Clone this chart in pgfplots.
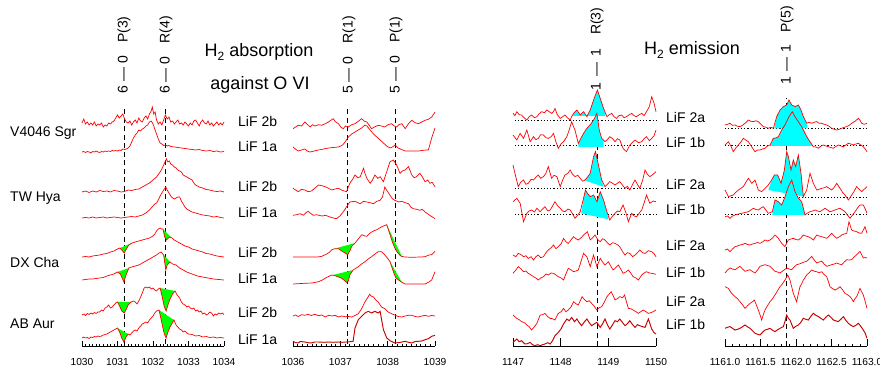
\documentclass[border=0pt]{standalone}
\usepackage{fontspec}
\setmainfont{Liberation Sans}
\usepackage{pgfplots}
\pgfplotsset{compat=1.18}
\newcommand\lab{\fontsize{14}{16}\selectfont}
\newcommand\ttl{\fontsize{18}{20}\selectfont}
\newcommand\sub[1]{\raisebox{-0.4ex}{\fontsize{12}{12}\selectfont #1}}
\pgfplotsset{
 panel/.style={scale only axis, height=346pt, ymin=0, ymax=346, axis x line*=bottom, axis y line=none, ytick=\empty, clip=false,
   tick align=inside, major tick length=5pt, minor tick length=2.5pt,
   every tick/.style={black, line width=0.7pt}, axis line style={black, line width=0.8pt},
   xticklabel style={font=\fontsize{10.2}{12}\selectfont, yshift=-9pt}},
 spec/.style={red, line width=0.7pt, mark=none},
 dspec/.style={red!78!black, line width=0.95pt, mark=none},
 off/.style={y filter/.expression={y+#1-1}},
 gf/.style={fill={rgb,255:red,0;green,255;blue,0}, draw=none},
 cf/.style={fill={rgb,255:red,0;green,255;blue,255}, draw=none},
 vl/.style={black, line width=0.9pt, dash pattern=on 5pt off 3.5pt},
 bl/.style={black, line width=1pt, dash pattern=on 1.2pt off 2pt},
}
\begin{document}
\begin{tikzpicture}
\useasboundingbox (0pt,0pt) rectangle (880pt,372pt);
% ---------------- Panel 1 ----------------
\begin{axis}[panel, at={(82pt,26pt)}, anchor=south west, width=142pt, xmin=1030, xmax=1034,
  xtick={1030,1031,1032,1033,1034}, xticklabels={1030,1031,1032,1033,1034}, minor x tick num=9]
\addplot[vl] coordinates {(1031.19,2) (1031.19,239)};
\addplot[vl] coordinates {(1032.36,2) (1032.36,239)};
\addplot[spec, off=223] coordinates {(1030.00,1) (1030.05,5) (1030.10,0) (1030.15,2) (1030.20,-1) (1030.25,1) (1030.30,-1) (1030.35,2) (1030.40,-2) (1030.45,0) (1030.50,-1) (1030.55,1) (1030.60,-3) (1030.65,-1) (1030.70,-2) (1030.75,1) (1030.80,0) (1030.85,2) (1030.90,3) (1030.95,6) (1031.00,9) (1031.05,6) (1031.10,8) (1031.15,10) (1031.20,5) (1031.25,2) (1031.30,1) (1031.35,3) (1031.40,-1) (1031.45,2) (1031.50,4) (1031.55,1) (1031.60,6) (1031.65,3) (1031.70,2) (1031.75,6) (1031.80,8) (1031.85,5) (1031.90,10) (1031.95,13) (1031.98,17) (1032.02,10) (1032.06,12) (1032.10,4) (1032.15,0) (1032.20,2) (1032.25,-1) (1032.30,4) (1032.35,9) (1032.40,5) (1032.45,7) (1032.50,2) (1032.55,3) (1032.60,0) (1032.65,2) (1032.70,4) (1032.75,0) (1032.80,1) (1032.85,-1) (1032.90,2) (1032.95,0) (1033.00,-2) (1033.05,1) (1033.10,-1) (1033.15,3) (1033.20,4) (1033.25,1) (1033.30,-2) (1033.35,2) (1033.40,4) (1033.45,1) (1033.50,0) (1033.55,3) (1033.60,-1) (1033.65,1) (1033.70,-2) (1033.75,0) (1033.80,2) (1033.85,-1) (1033.90,1) (1033.95,-1) (1034.00,2)};
\addplot[spec, off=195] coordinates {(1030.00,0) (1030.05,0.5) (1030.10,-0.5) (1030.15,0.5) (1030.20,0) (1030.25,-1) (1030.30,0.5) (1030.35,0) (1030.40,1) (1030.45,0) (1030.50,-0.5) (1030.55,0.5) (1030.60,0) (1030.65,1) (1030.70,0.5) (1030.75,1) (1030.80,0.5) (1030.85,1.5) (1030.90,1) (1030.95,1.5) (1031.00,1) (1031.05,2) (1031.10,1.5) (1031.15,3) (1031.20,2.5) (1031.25,3) (1031.30,4) (1031.35,6) (1031.40,10) (1031.45,14) (1031.50,17) (1031.55,19) (1031.60,22) (1031.65,21) (1031.70,23) (1031.75,24) (1031.80,26) (1031.85,27) (1031.90,30) (1031.95,31) (1032.00,28) (1032.05,23) (1032.10,18) (1032.15,13) (1032.20,9) (1032.25,8) (1032.30,6.5) (1032.35,7) (1032.40,6) (1032.45,6.5) (1032.50,5.5) (1032.60,5) (1032.70,4.5) (1032.80,4) (1032.90,3.5) (1033.00,3) (1033.10,2.5) (1033.20,2) (1033.30,2.5) (1033.40,1.5) (1033.50,1) (1033.60,1.5) (1033.70,0.5) (1033.80,1) (1033.90,0) (1034.00,0.5)};
\addplot[spec, off=155] coordinates {(1030.00,0) (1030.10,1) (1030.20,-0.5) (1030.30,1) (1030.40,0) (1030.50,1.5) (1030.60,0.5) (1030.70,1) (1030.80,0) (1030.90,1.5) (1031.00,1) (1031.10,0) (1031.20,0.5) (1031.30,2) (1031.40,1.5) (1031.50,2.5) (1031.60,3) (1031.70,5) (1031.80,7) (1031.90,9) (1032.00,12) (1032.10,15) (1032.20,20) (1032.25,23) (1032.30,27) (1032.35,31) (1032.38,33) (1032.42,30) (1032.46,31) (1032.50,28) (1032.55,27) (1032.60,25) (1032.65,24) (1032.70,22) (1032.75,21) (1032.80,20) (1032.85,17) (1032.90,16) (1032.95,15) (1033.00,14) (1033.05,13) (1033.10,12) (1033.15,9) (1033.20,7) (1033.30,5) (1033.40,4) (1033.50,2.5) (1033.60,2) (1033.70,1) (1033.80,0.5) (1033.90,1) (1034.00,0)};
\addplot[spec, off=129] coordinates {(1030.00,0) (1030.10,0.5) (1030.20,0) (1030.30,1) (1030.40,0) (1030.50,0.5) (1030.60,1) (1030.70,0) (1030.80,0.5) (1030.90,1) (1031.00,0.5) (1031.10,0) (1031.20,0.5) (1031.30,1) (1031.40,1.5) (1031.50,1) (1031.60,2) (1031.70,3) (1031.80,5) (1031.90,8) (1032.00,12) (1032.05,14) (1032.10,15) (1032.15,18) (1032.20,22) (1032.25,25) (1032.30,28) (1032.36,31) (1032.40,28) (1032.45,25) (1032.50,22) (1032.55,20) (1032.60,19) (1032.65,20) (1032.70,21) (1032.75,21) (1032.80,17) (1032.85,14) (1032.90,11) (1032.95,9) (1033.00,8) (1033.10,6) (1033.20,5) (1033.30,4) (1033.40,3) (1033.50,2.5) (1033.60,2) (1033.70,1) (1033.80,1.5) (1033.90,0.5) (1034.00,0)};
% DX Cha 2b
\addplot[gf, off=90] coordinates {(1031.07,9) (1031.12,7) (1031.19,4) (1031.25,8) (1031.32,12) (1031.41,14)} -- cycle;
\addplot[gf, off=90] coordinates {(1032.28,28) (1032.33,20) (1032.38,17) (1032.43,19) (1032.48,20) (1032.53,19)} -- cycle;
\addplot[spec, off=90] coordinates {(1030.00,0) (1030.10,0.5) (1030.20,0) (1030.30,1) (1030.40,1.5) (1030.50,2) (1030.60,3) (1030.70,3.5) (1030.80,5) (1030.90,6) (1031.00,8) (1031.07,9) (1031.12,7) (1031.19,4) (1031.25,8) (1031.32,12) (1031.41,14) (1031.50,15) (1031.60,16) (1031.70,17) (1031.80,18) (1031.90,19) (1032.00,21) (1032.05,23) (1032.10,26) (1032.15,28) (1032.20,29) (1032.24,28) (1032.28,28) (1032.33,20) (1032.38,17) (1032.43,19) (1032.48,20) (1032.53,19) (1032.60,17) (1032.70,15) (1032.80,13) (1032.90,11) (1033.00,10) (1033.10,8) (1033.20,7) (1033.30,6) (1033.40,5) (1033.50,3.5) (1033.60,3) (1033.70,2) (1033.80,1) (1033.90,0.5) (1034.00,0)};
% DX Cha 1a
\addplot[gf, off=67] coordinates {(1031.00,8) (1031.08,6) (1031.13,2) (1031.18,-2) (1031.23,4) (1031.32,12)} -- cycle;
\addplot[gf, off=67] coordinates {(1032.30,25) (1032.34,15) (1032.36,10) (1032.40,15) (1032.48,18)} -- cycle;
\addplot[spec, off=67] coordinates {(1030.00,0) (1030.10,0.5) (1030.20,1) (1030.30,1) (1030.40,1.5) (1030.50,2) (1030.60,2.5) (1030.70,4) (1030.80,5) (1030.90,6) (1031.00,8) (1031.08,6) (1031.13,2) (1031.18,-2) (1031.23,4) (1031.32,12) (1031.40,13) (1031.50,14) (1031.60,15) (1031.70,17) (1031.80,19) (1031.90,21) (1032.00,23) (1032.10,25) (1032.17,27) (1032.23,28) (1032.30,25) (1032.34,15) (1032.36,10) (1032.40,15) (1032.48,18) (1032.55,16) (1032.65,15) (1032.75,12) (1032.85,10) (1032.95,8) (1033.10,6) (1033.25,4) (1033.40,3) (1033.55,2) (1033.70,1) (1033.85,0.5) (1034.00,0)};
% AB Aur 2b
\addplot[gf, off=32] coordinates {(1031.00,13) (1031.06,9) (1031.12,4) (1031.19,2) (1031.25,6) (1031.30,10) (1031.38,13)} -- cycle;
\addplot[gf, off=32] coordinates {(1032.20,27) (1032.26,18) (1032.32,8) (1032.37,4) (1032.42,10) (1032.48,16) (1032.55,21) (1032.62,24)} -- cycle;
\addplot[spec, off=32] coordinates {(1030.00,0) (1030.05,1) (1030.10,-0.5) (1030.15,1.5) (1030.20,0.5) (1030.25,2) (1030.30,1) (1030.35,2.5) (1030.40,1.5) (1030.45,3) (1030.50,3) (1030.55,5) (1030.60,4) (1030.65,7) (1030.70,8) (1030.75,10) (1030.80,7) (1030.85,8) (1030.90,10) (1030.95,12) (1031.00,13) (1031.06,9) (1031.12,4) (1031.19,2) (1031.25,6) (1031.30,10) (1031.38,13) (1031.45,14) (1031.50,13) (1031.55,11) (1031.60,14) (1031.65,18) (1031.70,22) (1031.75,27) (1031.80,28) (1031.85,27) (1031.90,28) (1031.95,26) (1032.00,27) (1032.05,25) (1032.10,24) (1032.15,26) (1032.20,27) (1032.26,18) (1032.32,8) (1032.37,4) (1032.42,10) (1032.48,16) (1032.55,21) (1032.62,24) (1032.68,20) (1032.75,17) (1032.80,13) (1032.85,11) (1032.90,10) (1032.95,8) (1033.00,9) (1033.05,7) (1033.10,6) (1033.15,7) (1033.20,4) (1033.25,5) (1033.30,3) (1033.35,4) (1033.40,1) (1033.45,2) (1033.50,0) (1033.55,1) (1033.60,3) (1033.65,2) (1033.70,-1) (1033.75,1) (1033.80,0) (1033.85,2) (1033.90,1) (1033.95,2) (1034.00,0.5)};
% AB Aur 1a
\addplot[gf, off=9] coordinates {(1031.00,10) (1031.06,6) (1031.12,0) (1031.18,-4) (1031.24,1) (1031.30,4)} -- cycle;
\addplot[gf, off=9] coordinates {(1032.17,28) (1032.22,20) (1032.28,10) (1032.32,4) (1032.37,0) (1032.42,6) (1032.48,11) (1032.53,14) (1032.59,18)} -- cycle;
\addplot[spec, off=9] coordinates {(1030.00,0) (1030.05,1) (1030.10,0) (1030.15,0.5) (1030.20,-0.5) (1030.25,1) (1030.30,0.5) (1030.35,1.5) (1030.40,1) (1030.45,2) (1030.50,1.5) (1030.55,2) (1030.60,3) (1030.65,3.5) (1030.70,4) (1030.75,5) (1030.80,6) (1030.85,7) (1030.90,8) (1030.95,9) (1031.00,10) (1031.06,6) (1031.12,0) (1031.18,-4) (1031.24,1) (1031.30,4) (1031.35,3) (1031.40,5) (1031.45,7) (1031.50,8) (1031.55,7) (1031.60,10) (1031.65,12) (1031.70,14) (1031.75,15) (1031.80,16) (1031.85,15) (1031.90,18) (1031.95,20) (1032.00,22) (1032.05,25) (1032.10,27) (1032.17,28) (1032.22,20) (1032.28,10) (1032.32,4) (1032.37,0) (1032.42,6) (1032.48,11) (1032.53,14) (1032.59,18) (1032.65,13) (1032.70,11) (1032.75,9) (1032.80,8) (1032.85,6) (1032.90,7) (1032.95,5) (1033.00,4) (1033.10,3.5) (1033.20,2) (1033.30,2.5) (1033.40,1) (1033.50,1.5) (1033.60,0.5) (1033.70,1) (1033.80,0) (1033.90,0.5) (1034.00,0)};
\end{axis}
% ---------------- Panel 2 ----------------
\begin{axis}[panel, at={(293pt,26pt)}, anchor=south west, width=142pt, xmin=1036, xmax=1039,
  xtick={1036,1037,1038,1039}, xticklabels={1036,1037,1038,1039}, minor x tick num=9]
\addplot[vl] coordinates {(1037.15,2) (1037.15,239)};
\addplot[vl] coordinates {(1038.16,2) (1038.16,239)};
\addplot[spec, off=220] coordinates {(1036.00,-1.7) (1036.11,1.7) (1036.18,1) (1036.25,5) (1036.31,2.3) (1036.36,0) (1036.41,2.3) (1036.46,1) (1036.54,2.3) (1036.61,1.7) (1036.68,3.3) (1036.75,5) (1036.80,6.7) (1036.85,8.3) (1036.90,5) (1036.96,3.3) (1037.01,0) (1037.06,-1.7) (1037.11,1) (1037.17,0) (1037.24,2.3) (1037.31,3.3) (1037.38,5.7) (1037.45,8.3) (1037.51,5.7) (1037.56,5) (1037.61,1.7) (1037.66,-1.7) (1037.72,0) (1037.80,1.7) (1037.87,1) (1037.94,0) (1038.01,2.3) (1038.08,3.3) (1038.14,1) (1038.19,0) (1038.24,2.3) (1038.30,3.3) (1038.37,-1.7) (1038.44,3.3) (1038.51,6.7) (1038.58,4.3) (1038.65,3.3) (1038.72,5) (1038.79,6.7) (1038.86,7.7) (1038.93,10) (1039.00,15)};
\addplot[spec, off=197] coordinates {(1036.00,3) (1036.05,1) (1036.11,-1) (1036.18,0) (1036.25,1) (1036.30,-1) (1036.36,-2) (1036.45,-1) (1036.54,0) (1036.65,1) (1036.75,2) (1036.85,2.5) (1036.96,3) (1037.05,5) (1037.10,8) (1037.17,13) (1037.24,16) (1037.31,18) (1037.38,20) (1037.45,22) (1037.52,25) (1037.56,24) (1037.63,20) (1037.70,16) (1037.77,13) (1037.84,10) (1037.91,7) (1037.98,4) (1038.05,2) (1038.10,3) (1038.16,5) (1038.22,2) (1038.27,1) (1038.37,-1) (1038.50,-1) (1038.65,-1) (1038.80,0) (1038.86,0) (1038.93,12) (1039.00,22)};
\addplot[spec, off=157] coordinates {(1036.00,1.7) (1036.11,-1.7) (1036.18,0.7) (1036.25,0) (1036.32,-1.7) (1036.39,-1) (1036.46,1.7) (1036.54,5) (1036.61,4.3) (1036.68,3.3) (1036.75,1.7) (1036.82,0) (1036.89,1) (1036.96,1.7) (1037.04,-0.3) (1037.13,-1.7) (1037.20,6.7) (1037.25,10) (1037.31,15) (1037.37,12.3) (1037.42,13.3) (1037.49,21.7) (1037.52,16.7) (1037.56,11.7) (1037.63,6.7) (1037.68,10) (1037.73,15) (1037.79,11.7) (1037.84,13.3) (1037.91,8.3) (1037.98,18.3) (1038.05,28.3) (1038.12,30) (1038.19,25) (1038.26,16.7) (1038.31,19) (1038.37,20) (1038.44,23.3) (1038.51,15) (1038.56,12.3) (1038.61,13.3) (1038.68,16.7) (1038.73,13.3) (1038.79,8.3) (1038.85,10) (1038.89,6.7) (1038.94,7.7) (1039.00,3.3)};
\addplot[spec, off=130] coordinates {(1036.00,1.7) (1036.08,2.3) (1036.15,3.3) (1036.22,1.7) (1036.27,4.3) (1036.32,5.7) (1036.38,3.3) (1036.43,1.7) (1036.50,2.3) (1036.61,1) (1036.69,1.7) (1036.78,0) (1036.85,-1) (1036.92,-1.7) (1036.99,1) (1037.06,5) (1037.13,10) (1037.20,15) (1037.31,15.7) (1037.37,14.3) (1037.42,13.3) (1037.49,15.7) (1037.56,15) (1037.63,14.3) (1037.70,13.3) (1037.77,15.7) (1037.84,16.7) (1037.89,20) (1037.94,30) (1037.98,26.7) (1038.05,21.7) (1038.10,18.3) (1038.15,16.7) (1038.23,15) (1038.30,15.7) (1038.37,14.3) (1038.44,13.3) (1038.49,10) (1038.54,8.3) (1038.61,7.7) (1038.68,6.7) (1038.73,7.7) (1038.79,5) (1038.89,1.7) (1039.00,-1.7)};
% DX Cha 2b
\addplot[gf, off=90] coordinates {(1036.85,8) (1036.89,8.3) (1036.96,8.3) (1037.03,6) (1037.10,4) (1037.155,2.3) (1037.20,6) (1037.24,10.7) (1037.31,14)} -- cycle;
\addplot[gf, off=90] coordinates {(1037.98,32.3) (1038.05,22.3) (1038.10,15) (1038.15,9) (1038.20,5) (1038.26,1.7) (1038.30,0.5)} -- cycle;
\addplot[spec, off=90] coordinates {(1036.00,0) (1036.25,0) (1036.50,0) (1036.60,0.5) (1036.68,2.3) (1036.75,4) (1036.82,7.3) (1036.89,8.3) (1036.96,8.3) (1037.03,6) (1037.10,4) (1037.155,2.3) (1037.20,6) (1037.24,10.7) (1037.31,14) (1037.38,18) (1037.45,22.3) (1037.52,21) (1037.56,20.7) (1037.63,24) (1037.70,26) (1037.77,27.3) (1037.84,29.3) (1037.91,31) (1037.98,32.3) (1038.05,22.3) (1038.10,15) (1038.15,9) (1038.20,5) (1038.26,1.7) (1038.30,0.5) (1038.37,0) (1038.50,-0.3) (1038.70,0) (1038.79,0.3) (1038.87,2) (1038.93,2.3) (1039.00,5.7)};
% DX Cha 1a
\addplot[gf, off=63] coordinates {(1036.85,9) (1036.89,8.3) (1036.96,7) (1037.03,5.7) (1037.10,3) (1037.13,1.7) (1037.17,3) (1037.20,9) (1037.27,14)} -- cycle;
\addplot[gf, off=63] coordinates {(1038.05,22.3) (1038.12,12.3) (1038.17,6.3) (1038.23,4) (1038.30,1.7)} -- cycle;
\addplot[spec, off=63] coordinates {(1036.00,0) (1036.25,0.7) (1036.40,1) (1036.54,2.3) (1036.62,4) (1036.68,5.7) (1036.75,7.5) (1036.82,9) (1036.89,8.3) (1036.96,7) (1037.03,5.7) (1037.10,3) (1037.13,1.7) (1037.17,3) (1037.20,9) (1037.27,14) (1037.38,17.3) (1037.45,20) (1037.52,22.3) (1037.59,25) (1037.66,27.3) (1037.73,30) (1037.80,32.3) (1037.87,32.3) (1037.94,29) (1038.01,25) (1038.05,22.3) (1038.12,12.3) (1038.17,6.3) (1038.23,4) (1038.30,1.7) (1038.37,0) (1038.60,0) (1038.79,0) (1038.87,2) (1038.93,4) (1039.00,12.3)};
\addplot[spec, off=31] coordinates {(1036.00,0) (1036.05,1) (1036.11,-0.5) (1036.18,1.3) (1036.25,0.7) (1036.32,1.7) (1036.39,0.5) (1036.46,1.7) (1036.54,0.3) (1036.61,1) (1036.68,-1) (1036.75,0.7) (1036.82,0) (1036.89,0.7) (1036.96,-1) (1037.03,0) (1037.10,-0.7) (1037.17,-0.5) (1037.24,-1) (1037.31,0.5) (1037.38,2.3) (1037.45,7.3) (1037.52,14) (1037.56,17) (1037.62,21.7) (1037.65,20) (1037.70,19) (1037.75,16) (1037.80,14) (1037.87,9) (1037.94,7.3) (1038.01,4) (1038.08,2.3) (1038.15,1) (1038.22,-0.5) (1038.30,-1) (1038.37,0) (1038.44,0.7) (1038.51,0.7) (1038.58,-0.5) (1038.65,-1) (1038.72,0) (1038.79,0.7) (1038.86,-0.3) (1038.93,0.5) (1039.00,0)};
\addplot[dspec, off=5] coordinates {(1036.00,0.7) (1036.05,-0.5) (1036.11,-1) (1036.15,0.5) (1036.25,0) (1036.32,-0.7) (1036.39,-1) (1036.46,0) (1036.54,0) (1036.65,-0.3) (1036.75,0) (1036.85,-0.3) (1036.96,0) (1037.05,-0.3) (1037.13,0) (1037.20,0.3) (1037.27,0.7) (1037.31,14) (1037.38,22.3) (1037.45,25.7) (1037.52,29) (1037.59,30.7) (1037.66,29) (1037.73,30.7) (1037.80,29) (1037.84,30.7) (1037.91,12.3) (1037.98,4) (1038.05,1.3) (1038.15,-1) (1038.25,-0.5) (1038.37,0.7) (1038.44,-0.3) (1038.51,-1) (1038.58,0.5) (1038.65,0.7) (1038.72,1) (1038.79,2.3) (1038.86,3.3) (1038.93,5.7) (1039.00,6.7)};
\end{axis}
% ---------------- Panel 3 ----------------
\begin{axis}[panel, at={(513pt,26pt)}, anchor=south west, width=143pt, xmin=1147, xmax=1150,
  xtick={1147,1148,1149,1150}, xticklabels={1147,1148,1149,1150}, major tick length=8pt]
\addplot[vl] coordinates {(1148.77,0) (1148.77,246)};
\addplot[bl] coordinates {(1147.04,225.3) (1150,225.3)};
\addplot[bl] coordinates {(1147.04,200.3) (1150,200.3)};
\addplot[bl] coordinates {(1147.04,157.7) (1150,157.7)};
\addplot[bl] coordinates {(1147.04,131) (1150,131)};
\addplot[cf, off=226.3] coordinates {(1148.23,4.7) (1148.27,7.3) (1148.34,10.7) (1148.41,5.7) (1148.48,9) (1148.55,4.7) (1148.62,10.7) (1148.69,20.7) (1148.77,30.7) (1148.83,22.3) (1148.90,12.3) (1148.93,8) (1148.93,4.7)} -- cycle;
\addplot[spec, off=226.3] coordinates {(1147.00,7.3) (1147.04,5) (1147.08,9) (1147.13,6) (1147.18,5.7) (1147.23,3) (1147.29,0.7) (1147.34,4) (1147.39,5.7) (1147.45,3) (1147.50,4) (1147.55,7) (1147.60,9) (1147.66,8) (1147.71,10.7) (1147.76,9) (1147.81,7.3) (1147.85,9) (1147.88,12.3) (1147.93,6) (1147.99,2.3) (1148.04,4) (1148.09,5.7) (1148.14,3) (1148.20,0.7) (1148.23,4) (1148.27,7.3) (1148.34,10.7) (1148.41,5.7) (1148.48,9) (1148.55,4) (1148.62,10.7) (1148.69,20.7) (1148.77,30.7) (1148.83,22.3) (1148.90,12.3) (1148.97,4) (1149.02,6) (1149.07,7.3) (1149.12,4) (1149.17,2.3) (1149.22,5) (1149.28,5.7) (1149.33,3) (1149.38,4) (1149.44,6) (1149.49,7.3) (1149.54,5) (1149.59,4) (1149.65,6) (1149.70,7.3) (1149.75,5) (1149.80,9) (1149.86,14) (1149.91,24) (1149.96,17.3) (1150.00,9)};
\addplot[cf, off=201.3] coordinates {(1148.37,2.3) (1148.42,7) (1148.48,12.3) (1148.58,19) (1148.69,25.7) (1148.76,32.3) (1148.81,15.7) (1148.86,7.3) (1148.90,5) (1148.90,-1.3) (1148.37,-1.3)} -- cycle;
\addplot[spec, off=201.3] coordinates {(1147.00,10.7) (1147.08,5.7) (1147.15,12.3) (1147.22,7.3) (1147.29,15.7) (1147.36,4) (1147.43,9) (1147.48,6) (1147.53,7.3) (1147.58,11) (1147.64,10.7) (1147.69,8) (1147.74,7.3) (1147.80,9) (1147.85,12.3) (1147.90,4) (1147.95,-2.7) (1148.01,2) (1148.06,4) (1148.13,9) (1148.18,16) (1148.23,24) (1148.30,15.7) (1148.37,2.3) (1148.42,7) (1148.48,12.3) (1148.53,16) (1148.58,19) (1148.64,22) (1148.69,25.7) (1148.76,32.3) (1148.81,15.7) (1148.86,7.3) (1148.93,4) (1148.98,6) (1149.03,9) (1149.09,7) (1149.14,4) (1149.19,7) (1149.24,5.7) (1149.31,-2.7) (1149.38,-6) (1149.45,0.7) (1149.50,3) (1149.56,5.7) (1149.63,3) (1149.70,4) (1149.75,7) (1149.80,9) (1149.86,5) (1149.91,7.3) (1149.96,10) (1150.00,15.7)};
\addplot[cf, off=158.7] coordinates {(1148.48,8.3) (1148.51,8.3) (1148.56,11) (1148.62,15) (1148.69,31.7) (1148.73,36.7) (1148.80,21.7) (1148.86,8.3) (1148.90,1.5)} -- cycle;
\addplot[spec, off=158.7] coordinates {(1147.00,23.3) (1147.04,15) (1147.11,1.7) (1147.16,6) (1147.22,8.3) (1147.27,4) (1147.32,5) (1147.38,9) (1147.43,8.3) (1147.48,11) (1147.53,13.3) (1147.58,10) (1147.64,11.7) (1147.69,15) (1147.74,21.7) (1147.81,10) (1147.86,13) (1147.92,11.7) (1147.99,1.7) (1148.04,8) (1148.09,13.3) (1148.15,15) (1148.20,18.3) (1148.25,14) (1148.30,11.7) (1148.36,13) (1148.41,10) (1148.46,7) (1148.51,8.3) (1148.56,11) (1148.62,15) (1148.69,31.7) (1148.73,36.7) (1148.80,21.7) (1148.86,8.3) (1148.93,1.7) (1148.98,4) (1149.03,6.7) (1149.09,5) (1149.14,3.3) (1149.19,5) (1149.24,6.7) (1149.30,3) (1149.35,0) (1149.40,2) (1149.45,-1.7) (1149.51,4) (1149.56,8.3) (1149.61,4) (1149.66,0) (1149.72,8) (1149.77,18.3) (1149.82,14) (1149.87,11.7) (1149.94,14) (1150.00,16.7)};
\addplot[cf, off=132] coordinates {(1148.43,1.7) (1148.48,16.7) (1148.52,25) (1148.57,21) (1148.62,18.3) (1148.69,20) (1148.76,13.3) (1148.83,23.3) (1148.90,15) (1148.97,3.3) (1149.00,-4.3)} -- cycle;
\addplot[spec, off=132] coordinates {(1147.00,13.3) (1147.08,16.7) (1147.15,11.7) (1147.22,-6.7) (1147.29,1.7) (1147.34,4) (1147.39,5) (1147.45,3) (1147.50,6.7) (1147.57,3.3) (1147.62,6) (1147.67,8.3) (1147.73,4) (1147.78,5) (1147.83,9) (1147.88,13.3) (1147.94,9) (1147.99,6.7) (1148.04,4) (1148.09,3.3) (1148.15,6) (1148.20,5) (1148.25,1) (1148.30,-3.3) (1148.36,0) (1148.41,3.3) (1148.48,16.7) (1148.52,25) (1148.57,21) (1148.62,18.3) (1148.69,20) (1148.76,13.3) (1148.83,23.3) (1148.90,15) (1148.97,3.3) (1149.03,-5) (1149.09,-1) (1149.14,1.7) (1149.19,4) (1149.24,3.3) (1149.31,10) (1149.37,2) (1149.42,-6.7) (1149.49,1.7) (1149.54,-1) (1149.59,-1.7) (1149.65,2) (1149.70,5) (1149.75,12) (1149.80,20) (1149.87,11.7) (1149.94,14) (1150.00,13.3)};
\addplot[spec, off=90.3] coordinates {(1147.00,1.7) (1147.06,0) (1147.11,3.3) (1147.17,2) (1147.22,0) (1147.27,1) (1147.32,-1.7) (1147.38,0) (1147.43,-3.3) (1147.48,0) (1147.53,1.7) (1147.58,-1) (1147.64,0) (1147.69,4) (1147.74,6.7) (1147.80,9) (1147.85,11.7) (1147.90,8) (1147.95,10) (1148.01,13) (1148.06,18.3) (1148.11,15) (1148.16,13.3) (1148.22,17) (1148.27,20) (1148.32,18) (1148.37,16.7) (1148.43,19) (1148.48,21.7) (1148.56,25) (1148.62,16.7) (1148.67,19) (1148.72,21.7) (1148.78,17) (1148.83,15) (1148.88,18) (1148.93,16.7) (1148.98,14) (1149.03,11.7) (1149.09,14) (1149.14,13.3) (1149.19,12) (1149.24,10) (1149.30,5) (1149.35,1.7) (1149.40,4) (1149.45,3.3) (1149.51,0) (1149.56,1.7) (1149.61,4) (1149.66,6.7) (1149.72,4) (1149.77,3.3) (1149.84,6) (1149.91,5) (1149.96,3) (1150.00,0)};
\addplot[spec, off=72] coordinates {(1147.00,1.7) (1147.06,5) (1147.11,8.3) (1147.17,6) (1147.22,3.3) (1147.27,4) (1147.32,1.7) (1147.38,0) (1147.43,-1.7) (1147.48,-3) (1147.53,-5) (1147.58,-3) (1147.64,-1.7) (1147.69,1) (1147.74,0) (1147.80,2) (1147.85,1.7) (1147.90,0) (1147.95,-1.7) (1148.01,-3) (1148.06,-5) (1148.11,1) (1148.16,6.7) (1148.22,5) (1148.27,3.3) (1148.32,4) (1148.37,5) (1148.43,14) (1148.48,21.7) (1148.55,18.3) (1148.62,8.3) (1148.69,20) (1148.76,8.3) (1148.83,16.7) (1148.88,13) (1148.93,10) (1149.00,13.3) (1149.05,9) (1149.10,5) (1149.15,7) (1149.21,10) (1149.26,6) (1149.31,1.7) (1149.37,3) (1149.42,5) (1149.47,2) (1149.52,-1.7) (1149.58,-3) (1149.63,-5) (1149.70,0) (1149.75,2) (1149.80,3.3) (1149.86,2) (1149.91,1.7) (1150.00,0.7)};
\addplot[spec, off=30.3] coordinates {(1147.00,1.7) (1147.08,-1.7) (1147.13,-3) (1147.18,-5) (1147.24,-6) (1147.29,-8.3) (1147.34,-10) (1147.39,-13.3) (1147.45,-10) (1147.50,-6.7) (1147.57,1.7) (1147.62,2) (1147.67,3.3) (1147.73,0) (1147.78,-1.7) (1147.83,-2) (1147.88,-3.3) (1147.95,3.3) (1148.01,5) (1148.06,8.3) (1148.11,5) (1148.16,6.7) (1148.22,10) (1148.27,15) (1148.32,13) (1148.37,11.7) (1148.45,20) (1148.50,17) (1148.55,15) (1148.60,16) (1148.65,13.3) (1148.71,10) (1148.76,6.7) (1148.81,9) (1148.86,10) (1148.92,15) (1148.97,20) (1149.06,25) (1149.10,21) (1149.14,16.7) (1149.19,18) (1149.24,20) (1149.30,19) (1149.34,21.7) (1149.38,15) (1149.42,8.3) (1149.47,8) (1149.52,6.7) (1149.58,5) (1149.63,3.3) (1149.68,5) (1149.73,6.7) (1149.79,5) (1149.84,3.3) (1149.89,4) (1149.94,5) (1150.00,6.7)};
\addplot[dspec, off=1.3] coordinates {(1147.00,3.3) (1147.04,5) (1147.08,6.7) (1147.13,4) (1147.18,5) (1147.25,1.7) (1147.30,2) (1147.36,3.3) (1147.41,1) (1147.46,0) (1147.52,1) (1147.57,0) (1147.62,1) (1147.67,1.7) (1147.73,3) (1147.78,1.7) (1147.83,5) (1147.88,10) (1147.95,13.3) (1148.01,17) (1148.06,21.7) (1148.13,26.7) (1148.18,25) (1148.23,28.3) (1148.29,24) (1148.34,26.7) (1148.39,23) (1148.44,20) (1148.50,24) (1148.55,26.7) (1148.60,23) (1148.65,20) (1148.71,22) (1148.76,23.3) (1148.83,18.3) (1148.88,22) (1148.93,26.7) (1148.98,21) (1149.03,16.7) (1149.09,21) (1149.14,25) (1149.19,24) (1149.24,26.7) (1149.30,23) (1149.35,20) (1149.40,22) (1149.45,25) (1149.51,21) (1149.56,18.3) (1149.61,21) (1149.66,20) (1149.72,19) (1149.77,18.3) (1149.84,26.7) (1149.91,16.7) (1149.96,13) (1150.00,11.7)};
\end{axis}
% ---------------- Panel 4 ----------------
\begin{axis}[panel, at={(725pt,26pt)}, anchor=south west, width=142pt, xmin=1161, xmax=1163,
  xtick={1161,1161.5,1162,1162.5,1163}, xticklabels={1161.0,1161.5,1162.0,1162.5,1163.0}, minor x tick num=4, major tick length=7pt]
\addplot[vl] coordinates {(1161.87,0) (1161.87,248)};
\addplot[bl] coordinates {(1161,217.7) (1163,217.7)};
\addplot[bl] coordinates {(1161,200) (1163,200)};
\addplot[bl] coordinates {(1161,148.7) (1163,148.7)};
\addplot[bl] coordinates {(1161,131) (1163,131)};
\addplot[cf, off=218.7] coordinates {(1161.695,0) (1161.728,11.7) (1161.775,18.3) (1161.822,21.7) (1161.869,23.3) (1161.901,28.3) (1161.939,23.3) (1161.986,21.7) (1162.033,23.3) (1162.070,18.3) (1162.103,11.7) (1162.150,5) (1162.160,0)} -- cycle;
\addplot[cf, off=201] coordinates {(1161.634,0) (1161.681,7.7) (1161.751,9.3) (1161.798,16) (1161.845,21) (1161.901,29.3) (1161.948,34.3) (1161.986,29.3) (1162.033,24.3) (1162.080,19.3) (1162.127,12.7) (1162.197,4.3) (1162.230,0)} -- cycle;
\addplot[spec, off=218.7] coordinates {(1161.000,3.3) (1161.035,4) (1161.070,5) (1161.105,3) (1161.141,3.3) (1161.176,2) (1161.211,1.7) (1161.246,3) (1161.282,5) (1161.329,8.3) (1161.364,7) (1161.399,6.7) (1161.434,7.5) (1161.469,6.7) (1161.505,4) (1161.540,1.7) (1161.575,1) (1161.610,0) (1161.645,1) (1161.681,0) (1161.728,11.7) (1161.775,18.3) (1161.822,21.7) (1161.869,23.3) (1161.901,28.3) (1161.939,23.3) (1161.986,21.7) (1162.033,23.3) (1162.070,18.3) (1162.103,11.7) (1162.150,5) (1162.185,6) (1162.221,5) (1162.256,6) (1162.291,6.7) (1162.326,5) (1162.362,5) (1162.397,4) (1162.432,3.3) (1162.467,2) (1162.502,0) (1162.538,-1) (1162.573,-1.7) (1162.608,-1) (1162.643,0) (1162.679,1) (1162.714,1.7) (1162.749,3) (1162.784,5) (1162.831,7) (1162.878,10) (1162.901,8) (1162.925,5) (1162.960,4) (1163.000,5)};
\addplot[spec, off=201] coordinates {(1161.000,1) (1161.047,4.3) (1161.082,0) (1161.117,-5.7) (1161.152,-2) (1161.188,1) (1161.223,4) (1161.258,7.7) (1161.293,6) (1161.329,4.3) (1161.376,-0.7) (1161.423,-5.7) (1161.458,-4) (1161.493,-4) (1161.528,-3) (1161.563,-2.3) (1161.598,0) (1161.634,1) (1161.681,7.7) (1161.716,8) (1161.751,9.3) (1161.798,16) (1161.845,21) (1161.901,29.3) (1161.948,34.3) (1161.986,29.3) (1162.033,24.3) (1162.080,19.3) (1162.127,12.7) (1162.162,8) (1162.197,4.3) (1162.244,-0.7) (1162.280,-1) (1162.315,-2.3) (1162.350,0) (1162.385,1) (1162.420,0) (1162.455,-0.7) (1162.490,-1.5) (1162.526,-2.3) (1162.561,-0.5) (1162.596,1) (1162.631,0) (1162.667,-0.7) (1162.702,1) (1162.737,2.7) (1162.772,2) (1162.808,1) (1162.843,2) (1162.878,2.7) (1162.913,1) (1162.948,-0.7) (1162.975,-3) (1163.000,-5.7)};
\addplot[cf, off=149.7] coordinates {(1161.610,7.3) (1161.657,17.3) (1161.695,22.3) (1161.742,22.3) (1161.789,14) (1161.836,27.3) (1161.869,45.7) (1161.892,40.7) (1161.930,27.3) (1161.962,37.3) (1161.995,30.7) (1162.033,42.3) (1162.070,24) (1162.103,0.7)} -- cycle;
\addplot[spec, off=149.7] coordinates {(1161.000,7.3) (1161.047,0.7) (1161.082,1.5) (1161.117,2.3) (1161.152,5) (1161.188,7.3) (1161.223,9) (1161.258,10.7) (1161.293,15) (1161.329,19) (1161.376,14) (1161.423,17.3) (1161.469,7.3) (1161.516,5.7) (1161.563,9) (1161.610,12.3) (1161.657,17.3) (1161.695,22.3) (1161.742,22.3) (1161.789,14) (1161.836,27.3) (1161.869,45.7) (1161.892,40.7) (1161.930,27.3) (1161.962,37.3) (1161.995,30.7) (1162.033,42.3) (1162.070,24) (1162.103,0.7) (1162.150,7.3) (1162.197,24) (1162.244,14) (1162.291,7.3) (1162.326,8) (1162.362,9) (1162.397,9.5) (1162.432,10.7) (1162.467,9) (1162.502,7.3) (1162.538,10) (1162.573,14) (1162.620,9) (1162.655,5) (1162.690,2.3) (1162.737,-2.7) (1162.784,2.3) (1162.819,6) (1162.854,10.7) (1162.890,8) (1162.925,5.7) (1162.960,8) (1163.000,10.7)};
\addplot[cf, off=132] coordinates {(1161.667,0) (1161.667,3.3) (1161.704,15) (1161.751,13.3) (1161.798,10) (1161.845,18.3) (1161.892,28.3) (1161.939,35) (1161.986,23.3) (1162.033,16.7) (1162.080,13.3) (1162.127,0)} -- cycle;
\addplot[spec, off=132] coordinates {(1161.000,-1.7) (1161.035,-1) (1161.070,-3.3) (1161.105,-1) (1161.141,0) (1161.188,1) (1161.235,1.7) (1161.282,2.5) (1161.329,3.3) (1161.364,5) (1161.399,6.7) (1161.434,5.5) (1161.469,5) (1161.505,7) (1161.540,8.3) (1161.575,5) (1161.610,1.7) (1161.667,3.3) (1161.704,15) (1161.751,13.3) (1161.798,10) (1161.845,18.3) (1161.892,28.3) (1161.939,35) (1161.986,23.3) (1162.033,16.7) (1162.080,13.3) (1162.127,0) (1162.162,2) (1162.197,3.3) (1162.232,4) (1162.268,5) (1162.303,4) (1162.338,3.3) (1162.373,5) (1162.408,6.7) (1162.444,5) (1162.479,3.3) (1162.514,4) (1162.549,5) (1162.585,6) (1162.620,6.7) (1162.655,5) (1162.690,3.3) (1162.725,0) (1162.761,-3.3) (1162.796,0) (1162.831,3.3) (1162.866,7) (1162.901,10) (1162.948,10) (1162.975,6) (1163.000,1.7)};
\addplot[spec, off=97] coordinates {(1161.000,0) (1161.035,1) (1161.070,-1.7) (1161.105,1) (1161.141,3.3) (1161.176,4) (1161.211,5) (1161.246,5.5) (1161.282,6.7) (1161.317,5.5) (1161.352,5) (1161.388,6) (1161.423,6.7) (1161.458,7.5) (1161.493,6.7) (1161.528,8) (1161.563,10) (1161.598,9) (1161.634,10) (1161.669,12) (1161.704,15) (1161.751,11.7) (1161.798,6.7) (1161.845,3.3) (1161.869,7) (1161.892,10) (1161.927,11) (1161.962,11.7) (1161.997,10.5) (1162.033,10) (1162.068,12) (1162.103,15) (1162.138,14) (1162.174,13.3) (1162.209,12) (1162.244,10) (1162.291,15) (1162.326,14) (1162.362,13.3) (1162.397,12.5) (1162.432,11.7) (1162.467,14) (1162.502,16.7) (1162.538,14) (1162.573,11.7) (1162.608,13) (1162.643,15) (1162.679,16) (1162.714,16.7) (1162.746,28.3) (1162.784,20) (1162.819,19) (1162.854,18.3) (1162.890,17) (1162.925,16.7) (1162.972,23.3) (1163.000,16.7)};
\addplot[spec, off=74] coordinates {(1161.000,0) (1161.035,3) (1161.070,5) (1161.105,4) (1161.141,3.3) (1161.176,5) (1161.211,6.7) (1161.246,4) (1161.282,1.7) (1161.317,2.5) (1161.352,3.3) (1161.388,1.5) (1161.423,0) (1161.458,3) (1161.493,6.7) (1161.528,7.5) (1161.563,8.3) (1161.598,7.5) (1161.634,6.7) (1161.669,4) (1161.704,1.7) (1161.740,1) (1161.775,0) (1161.822,2.5) (1161.869,5) (1161.904,4) (1161.939,3.3) (1161.974,6) (1162.009,8.3) (1162.045,9) (1162.080,10) (1162.115,11) (1162.150,11.7) (1162.185,14) (1162.221,16.7) (1162.256,13) (1162.291,10) (1162.326,11) (1162.362,11.7) (1162.397,9) (1162.432,6.7) (1162.467,7.5) (1162.502,8.3) (1162.538,9) (1162.573,10) (1162.608,9) (1162.643,8.3) (1162.679,11) (1162.714,13.3) (1162.749,13) (1162.784,13.3) (1162.819,16) (1162.854,18.3) (1162.901,21.7) (1162.948,15) (1162.975,15.5) (1163.000,15)};
\addplot[spec, off=50.3] coordinates {(1161.000,10) (1161.047,8.3) (1161.094,3.3) (1161.141,0) (1161.176,-2) (1161.211,-5) (1161.246,-8) (1161.282,-11.7) (1161.317,-9) (1161.352,-6.7) (1161.388,-5) (1161.413,-3.3) (1161.440,-8) (1161.469,-13.3) (1161.493,-18) (1161.516,-23.3) (1161.540,-18) (1161.563,-13.3) (1161.598,-9) (1161.634,-5) (1161.669,-2) (1161.704,1.7) (1161.740,6) (1161.775,10) (1161.810,13) (1161.845,16.7) (1161.883,21.7) (1161.915,16.7) (1161.939,10) (1161.962,3.3) (1161.986,-1) (1162.009,-5) (1162.033,3) (1162.056,10) (1162.080,13) (1162.103,16.7) (1162.127,19) (1162.150,21.7) (1162.185,24) (1162.221,26.7) (1162.256,25.5) (1162.291,25) (1162.326,24) (1162.362,25) (1162.397,22) (1162.432,20) (1162.456,15) (1162.479,10) (1162.514,8) (1162.549,6.7) (1162.585,8) (1162.620,10) (1162.655,7) (1162.690,3.3) (1162.725,2) (1162.761,0) (1162.784,-2) (1162.808,-5) (1162.831,-2) (1162.854,0) (1162.878,4) (1162.901,8.3) (1162.925,5) (1162.948,1.7) (1162.975,-5) (1163.000,-11.7)};
\addplot[dspec, off=18.7] coordinates {(1161.000,0) (1161.035,1) (1161.070,1.7) (1161.105,0) (1161.141,-1.7) (1161.176,-1) (1161.211,0) (1161.246,1.5) (1161.282,3.3) (1161.317,1.5) (1161.352,0) (1161.388,-2.5) (1161.423,-5) (1161.458,-6) (1161.493,-6.7) (1161.528,-4) (1161.563,-1.7) (1161.598,-1) (1161.634,0) (1161.669,-2) (1161.704,-3.3) (1161.740,-1.5) (1161.775,0) (1161.822,1.7) (1161.845,7) (1161.869,13.3) (1161.892,10) (1161.915,8.3) (1161.939,4) (1161.962,0) (1161.997,2) (1162.033,3.3) (1162.068,6) (1162.103,10) (1162.138,9) (1162.174,8.3) (1162.209,12) (1162.244,15) (1162.280,13) (1162.315,11.7) (1162.350,10) (1162.385,8.3) (1162.420,11) (1162.455,13.3) (1162.490,11) (1162.526,8.3) (1162.561,7.5) (1162.596,6.7) (1162.631,9) (1162.667,11.7) (1162.702,8) (1162.737,5) (1162.772,3) (1162.808,1.7) (1162.843,3) (1162.878,5) (1162.913,2) (1162.948,-1.7) (1162.975,-5) (1163.000,-10)};
\end{axis}
% ---------------- Text ----------------
\node[rotate=90, font=\lab] at (124pt,317pt) {6\hspace{4pt}\textemdash\hspace{4pt}0\hspace{13pt}P(3)};
\node[rotate=90, font=\lab] at (166pt,317pt) {6\hspace{4pt}\textemdash\hspace{4pt}0\hspace{13pt}R(4)};
\node[rotate=90, font=\lab] at (349pt,317pt) {5\hspace{4pt}\textemdash\hspace{4pt}0\hspace{13pt}R(1)};
\node[rotate=90, font=\lab] at (396pt,317pt) {5\hspace{4pt}\textemdash\hspace{4pt}0\hspace{13pt}P(1)};
\node[rotate=90, font=\lab] at (597pt,323pt) {1\hspace{6pt}\textemdash\hspace{6pt}1\hspace{14pt}R(3)};
\node[rotate=90, font=\lab] at (787pt,327pt) {1\hspace{5pt}\textemdash\hspace{5pt}1\hspace{12pt}P(5)};
\node[anchor=base, font=\ttl] at (259pt,315pt) {H\sub{2} absorption};
\node[anchor=base, font=\ttl] at (260pt,282pt) {against O VI};
\node[anchor=base, font=\ttl] at (692pt,317pt) {H\sub{2} emission};
\node[anchor=base west, font=\lab, inner sep=0pt] at (10pt,235pt) {V4046 Sgr};
\node[anchor=base west, font=\lab, inner sep=0pt] at (10pt,170pt) {TW Hya};
\node[anchor=base west, font=\lab, inner sep=0pt] at (10pt,104pt) {DX Cha};
\node[anchor=base west, font=\lab, inner sep=0pt] at (10pt,44pt) {AB Aur};
\foreach \y/\t in {245/2b,220/1a,180/2b,154/1a,114/2b,88/1a,55/2b,28/1a}
  \node[anchor=base west, font=\lab, inner sep=0pt] at (238pt,\y pt) {LiF \t};
\foreach \y/\t in {249.5/2a,224.5/1b,182/2a,157/1b,121/2a,94.5/1b,66/2a,43/1b}
  \node[anchor=base west, font=\lab, inner sep=0pt] at (666pt,\y pt) {LiF \t};
\end{tikzpicture}
\end{document}
